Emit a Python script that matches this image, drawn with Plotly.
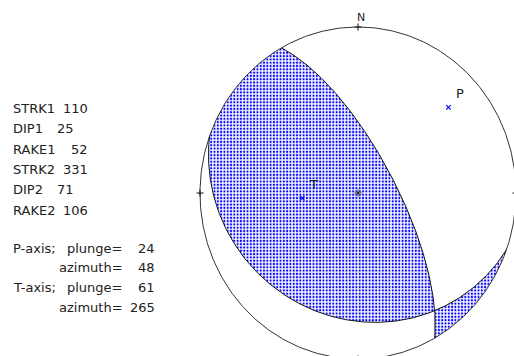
import numpy as np
import plotly.graph_objects as go

# Focal mechanism parameters (nodal planes and principal axes)
plane_names = ["1", "2"]
strikes = [110, 331]
dips = [25, 71]
rakes = [52, 106]
axis_names = ["P", "T"]
axis_plunges = [24, 61]
axis_azimuths = [48, 265]

# Stereonet placement on the page (pixels)
W, H = 514, 356
CX, CY = 358.0, 193.0
RX, RY = 158.0, 166.0

BLUE = "#0000ff"
INK = "#222222"


def plane_vectors(strike, dip):
    s = np.radians(strike)
    d = np.radians(dip)
    sv = np.array([np.sin(s), np.cos(s), 0.0])
    dd = s + np.pi / 2
    dv = np.array([np.cos(d) * np.sin(dd), np.cos(d) * np.cos(dd), np.sin(d)])
    return sv, dv


def project(vec):
    """Lower-hemisphere equal-area projection of (E, N, Down) vectors."""
    e, n, dn = vec
    horiz = np.hypot(e, n)
    theta = np.arctan2(horiz, dn)
    r = np.sqrt(2.0) * np.sin(theta / 2.0)
    az = np.arctan2(e, n)
    return r * np.sin(az), r * np.cos(az)


def plane_arc(strike, dip, lam_a, lam_b, num=200):
    sv, dv = plane_vectors(strike, dip)
    lam = np.linspace(lam_a, lam_b, num)
    vec = np.outer(sv, np.cos(lam)) + np.outer(dv, np.sin(lam))
    return project(vec)


def rim_arc(az_a, az_b, num=100):
    az = np.radians(np.linspace(az_a, az_b, num))
    return np.sin(az), np.cos(az)


def axis_point(plunge, azimuth):
    p = np.radians(plunge)
    a = np.radians(azimuth)
    vec = np.array([np.cos(p) * np.sin(a), np.cos(p) * np.cos(a), np.sin(p)])
    return project(vec)


# null axis: intersection of the two nodal planes
sv1, dv1 = plane_vectors(strikes[0], dips[0])
sv2, dv2 = plane_vectors(strikes[1], dips[1])
b_axis = np.cross(np.cross(sv1, dv1), np.cross(sv2, dv2))
b_axis /= np.linalg.norm(b_axis)
if b_axis[2] < 0:
    b_axis = -b_axis
lam1_b = np.arctan2(b_axis @ dv1, b_axis @ sv1)
lam2_b = np.arctan2(b_axis @ dv2, b_axis @ sv2)

# tension quadrants (shaded)
qa = [plane_arc(strikes[0], dips[0], np.pi, lam1_b),
      plane_arc(strikes[1], dips[1], lam2_b, 0.0),
      rim_arc(strikes[1], strikes[0] + 180)]
qb = [plane_arc(strikes[0], dips[0], lam1_b, 0.0),
      rim_arc(strikes[0], strikes[1] + 180 - 360),
      plane_arc(strikes[1], dips[1], np.pi, lam2_b)]

fig = go.Figure()

for quad in (qa, qb):
    xs = np.concatenate([seg[0] for seg in quad])
    ys = np.concatenate([seg[1] for seg in quad])
    fig.add_trace(go.Scatter(
        x=xs, y=ys, mode="lines", fill="toself",
        line=dict(width=0, color="rgba(0,0,0,0)"),
        fillcolor=BLUE,
        fillpattern=dict(shape="+", fgcolor="white", bgcolor=BLUE,
                         fillmode="replace", size=3.3, solidity=0.65),
        hoverinfo="skip", showlegend=False))

# outer circle
rx, ry = rim_arc(0, 360, 400)
fig.add_trace(go.Scatter(x=rx, y=ry, mode="lines",
                         line=dict(color="#333333", width=1),
                         hoverinfo="skip", showlegend=False))

# nodal planes
for stk, dp in zip(strikes, dips):
    px_, py_ = plane_arc(stk, dp, 0.0, np.pi, 300)
    fig.add_trace(go.Scatter(x=px_, y=py_, mode="lines",
                             line=dict(color="#111111", width=1),
                             hoverinfo="skip", showlegend=False))

# cardinal ticks and centre
tx, ty = rim_arc(0, 270, 4)
fig.add_trace(go.Scatter(x=tx, y=ty, mode="markers",
                         marker=dict(symbol="cross-thin", size=5, color="#111111",
                                     line=dict(color="#111111", width=1)),
                         hoverinfo="skip", showlegend=False))
fig.add_trace(go.Scatter(x=[0], y=[0], mode="markers",
                         marker=dict(symbol="asterisk-open", size=6, color="#333333",
                                     line=dict(color="#333333", width=1)),
                         hoverinfo="skip", showlegend=False))

# P and T axes
ax_x, ax_y = [], []
for pl, az in zip(axis_plunges, axis_azimuths):
    x0, y0 = axis_point(pl, az)
    ax_x.append(float(x0))
    ax_y.append(float(y0))
fig.add_trace(go.Scatter(x=ax_x, y=ax_y, mode="markers",
                         marker=dict(symbol="x-thin-open", size=4.5, color=BLUE,
                                     line=dict(color=BLUE, width=1.2)),
                         hoverinfo="skip", showlegend=False))

annotations = []
font = dict(family="DejaVu Sans", size=13, color=INK)
for name, x0, y0 in zip(axis_names, ax_x, ax_y):
    annotations.append(dict(x=x0, y=y0, xref="x", yref="y", text=name,
                            showarrow=False, xshift=11.5, yshift=14,
                            font=font))
annotations.append(dict(x=0, y=1, xref="x", yref="y", text="N",
                        showarrow=False, xshift=3, yshift=10,
                        font=dict(family="DejaVu Sans", size=11, color=INK)))


def px(xp):
    return xp / W


def py(yp):
    return 1 - yp / H


# parameter listing
labels_top = []
values_top = []
for i, nm in enumerate(plane_names):
    labels_top += ["STRK" + nm, "DIP" + nm, "RAKE" + nm]
    values_top += [strikes[i], dips[i], rakes[i]]
field_end = {"STRK": 90, "DIP": 76, "RAKE": 90}
for row, (lab, val) in enumerate(zip(labels_top, values_top)):
    base = 113 + row * 20.4
    annotations.append(dict(x=px(11), y=py(base - 4.8), xref="paper", yref="paper",
                            text=lab, showarrow=False, xanchor="left",
                            yanchor="middle", font=font))
    annotations.append(dict(x=px(field_end[lab.rstrip("12")]), y=py(base - 4.8),
                            xref="paper", yref="paper", text=str(val),
                            showarrow=False, xanchor="right", yanchor="middle",
                            font=font))

row = 0
for name, pl, az in zip(axis_names, axis_plunges, axis_azimuths):
    for key, val in (("plunge=", pl), ("azimuth=", az)):
        base = 253 + row * 19.7
        if key == "plunge=":
            annotations.append(dict(x=px(11), y=py(base - 4.8), xref="paper",
                                    yref="paper", text=name + "-axis;",
                                    showarrow=False, xanchor="left",
                                    yanchor="middle", font=font))
        annotations.append(dict(x=px(125), y=py(base - 4.8), xref="paper",
                                yref="paper", text=key, showarrow=False,
                                xanchor="right", yanchor="middle", font=font))
        annotations.append(dict(x=px(157), y=py(base - 4.8), xref="paper",
                                yref="paper", text=str(val), showarrow=False,
                                xanchor="right", yanchor="middle", font=font))
        row += 1

fig.update_layout(
    width=W, height=H,
    margin=dict(l=0, r=0, t=0, b=0),
    paper_bgcolor="white", plot_bgcolor="white",
    showlegend=False,
    xaxis=dict(range=[-CX / RX, (W - CX) / RX], visible=False, fixedrange=True),
    yaxis=dict(range=[-(H - CY) / RY, CY / RY], visible=False, fixedrange=True),
    annotations=annotations,
)

fig.write_html("out.html")
